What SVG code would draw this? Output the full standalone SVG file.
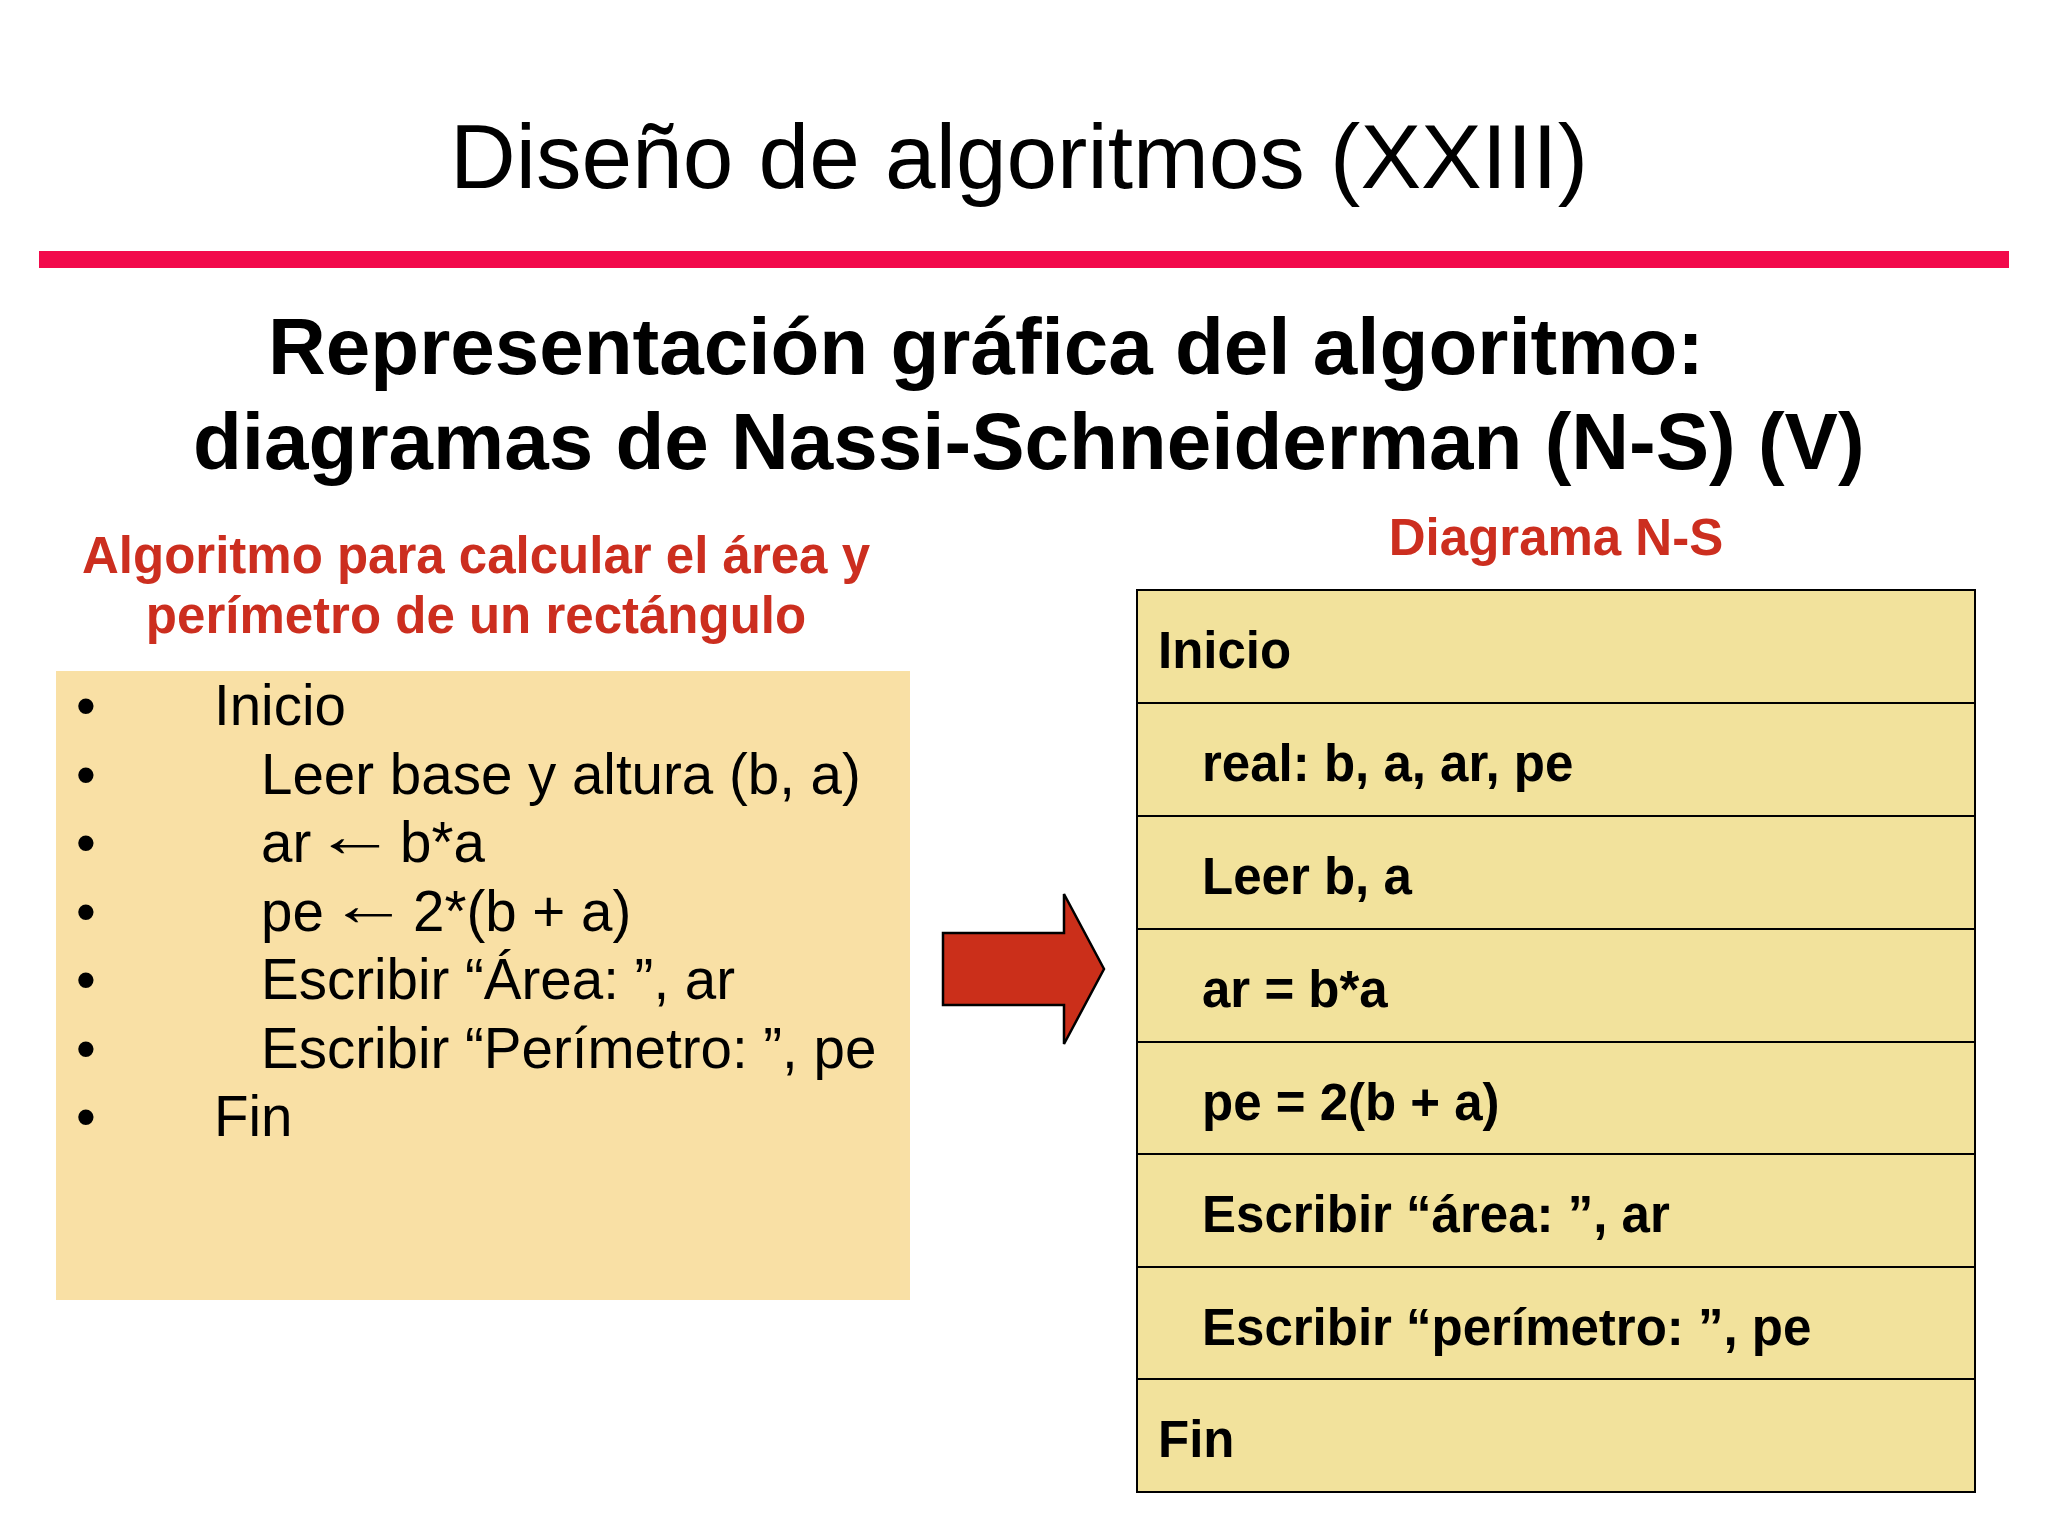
<svg xmlns="http://www.w3.org/2000/svg" width="2048" height="1536" viewBox="0 0 2048 1536">
<style>
.title{font-family:"Liberation Sans",Arial,sans-serif;font-size:91px;fill:#000}
.sub{font-family:"Liberation Sans",Arial,sans-serif;font-size:80px;font-weight:bold;fill:#000}
.red{font-family:"Liberation Sans",Arial,sans-serif;font-size:51px;font-weight:bold;fill:#CC2E1F}
.list{font-family:"Liberation Sans",Arial,sans-serif;font-size:56.5px;fill:#000}
.ns{font-family:"Liberation Sans",Arial,sans-serif;font-size:51px;font-weight:bold;fill:#000}
.row{fill:#F2E29C;stroke:#000;stroke-width:2}
</style>
<rect width="2048" height="1536" fill="#FFFFFF"/>
<g id="header">
<text class="title" x="1019" y="188" text-anchor="middle">Diseño de algoritmos (XXIII)</text>
<rect x="39" y="251" width="1970" height="17" fill="#F20A4B"/>
<text class="sub" x="268" y="374">Representación gráfica del algoritmo:</text>
<text class="sub" x="193" y="469">diagramas de Nassi-Schneiderman (N-S) (V)</text>
</g>
<g id="left-title">
<text class="red" x="476" y="573" text-anchor="middle">Algoritmo para calcular el área y</text>
<text class="red" x="476" y="633" text-anchor="middle">perímetro de un rectángulo</text>
</g>
<g id="algorithm">
<rect x="56" y="671" width="854" height="629" fill="#F9E0A5"/>
<g class="list">
<text x="76" y="725">•</text><text x="214" y="725">Inicio</text>
<text x="76" y="794">•</text><text x="261" y="794">Leer base y altura (b, a)</text>
<text x="76" y="862">•</text><text x="261" y="862">ar</text><text transform="translate(314,856) scale(1.45,1.05)">←</text><text x="400" y="862">b*a</text>
<text x="76" y="931">•</text><text x="261" y="931">pe</text><text transform="translate(329,925) scale(1.4,1.05)">←</text><text x="413" y="931">2*(b + a)</text>
<text x="76" y="999">•</text><text x="261" y="999">Escribir “Área: ”, ar</text>
<text x="76" y="1068">•</text><text x="261" y="1068">Escribir “Perímetro: ”, pe</text>
<text x="76" y="1136">•</text><text x="214" y="1136">Fin</text>
</g>
</g>
<g id="connectors">
<polygon points="943,933 1064,933 1064,894 1104,969 1064,1044 1064,1005 943,1005" fill="#CB2F1A" stroke="#000" stroke-width="2.5" stroke-linejoin="miter"/>
</g>
<g id="ns-title">
<text class="red" x="1556" y="555" text-anchor="middle">Diagrama N-S</text>
</g>
<g id="ns-diagram">
<g id="ns-inicio"><rect class="row" x="1137" y="590" width="838" height="113"/><text class="ns" x="1158" y="668">Inicio</text></g>
<g id="ns-real"><rect class="row" x="1137" y="703" width="838" height="113"/><text class="ns" x="1202" y="781">real: b, a, ar, pe</text></g>
<g id="ns-leer"><rect class="row" x="1137" y="816" width="838" height="113"/><text class="ns" x="1202" y="894">Leer b, a</text></g>
<g id="ns-ar"><rect class="row" x="1137" y="929" width="838" height="113"/><text class="ns" x="1202" y="1007">ar = b*a</text></g>
<g id="ns-pe"><rect class="row" x="1137" y="1042" width="838" height="112"/><text class="ns" x="1202" y="1120">pe = 2(b + a)</text></g>
<g id="ns-area"><rect class="row" x="1137" y="1154" width="838" height="113"/><text class="ns" x="1202" y="1232">Escribir “área: ”, ar</text></g>
<g id="ns-perim"><rect class="row" x="1137" y="1267" width="838" height="112"/><text class="ns" x="1202" y="1345">Escribir “perímetro: ”, pe</text></g>
<g id="ns-fin"><rect class="row" x="1137" y="1379" width="838" height="113"/><text class="ns" x="1158" y="1457">Fin</text></g>
</g>
</svg>
